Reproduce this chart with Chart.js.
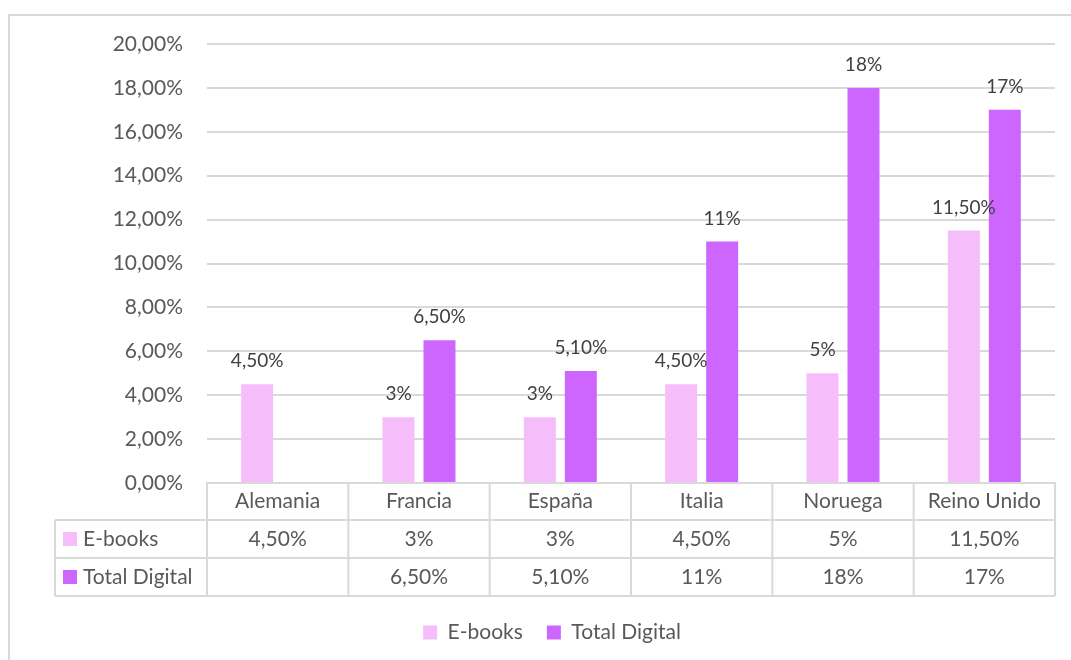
<!DOCTYPE html>
<html>
<head>
<meta charset="utf-8">
<script src="https://cdn.jsdelivr.net/npm/chart.js@4.4.0/dist/chart.umd.min.js"></script>
<style>
  html, body { margin: 0; padding: 0; background: #fff; }
  #wrap { width: 1071px; height: 660px; }
</style>
</head>
<body>
<div id="wrap"><canvas id="chart" width="1071" height="660"></canvas></div>
<script>
const countries = ["Alemania", "Francia", "España", "Italia", "Noruega", "Reino Unido"];
const ebooks = [0.045, 0.03, 0.03, 0.045, 0.05, 0.115];
const totalDigital = [null, 0.065, 0.051, 0.11, 0.18, 0.17];
const seriesNames = ["E-books", "Total Digital"];
const seriesColors = ["#F5BEFB", "#CC66FF"];

const FONT = "Lato, 'Open Sans', sans-serif";
const TEXT = "#595959";
const LINE = "#d9d9d9";
const PAD_LEFT = 49;

// excel style: 4,50% / 3% / 20,00%
const pct = (v, fixed) => {
  const p = Math.round(v * 10000) / 100;
  const s = fixed || !Number.isInteger(p) ? p.toFixed(2) : String(p);
  return s.replace(".", ",") + "%";
};

const frame = {
  id: "frame",
  beforeDraw(chart) {
    const c = chart.ctx;
    c.save();
    c.fillStyle = "#fff";
    c.fillRect(0, 0, chart.width, chart.height);
    c.strokeStyle = LINE;
    c.lineWidth = 2;
    c.strokeRect(9, 15, chart.width + 20, chart.height + 20);
    c.restore();
  }
};

const valueLabels = {
  id: "valueLabels",
  afterDatasetsDraw(chart) {
    const c = chart.ctx;
    c.save();
    c.font = "19px " + FONT;
    c.fillStyle = "#404040";
    c.textAlign = "center";
    c.textBaseline = "middle";
    chart.data.datasets.forEach((ds, i) => {
      chart.getDatasetMeta(i).data.forEach((bar, j) => {
        const v = ds.data[j];
        if (v == null) return;
        c.fillText(pct(v), bar.x, bar.y - 23);
      });
    });
    c.restore();
  }
};

const dataTable = {
  id: "dataTable",
  afterDraw(chart) {
    const x = chart.scales.x;
    const c = chart.ctx;
    const n = countries.length;
    const colW = (x.right - x.left) / n;
    const rows = [x.top, x.top + 37, x.top + 75, x.top + 113];
    const left0 = 55;
    c.save();
    c.strokeStyle = LINE;
    c.lineWidth = 2;
    c.beginPath();
    c.moveTo(x.left, rows[0]); c.lineTo(x.right, rows[0]);
    for (let r = 1; r < rows.length; r++) {
      c.moveTo(left0, rows[r]); c.lineTo(x.right, rows[r]);
    }
    for (let k = 0; k <= n; k++) {
      const px = x.left + k * colW;
      c.moveTo(px, rows[0]); c.lineTo(px, rows[3]);
    }
    c.moveTo(left0, rows[1]); c.lineTo(left0, rows[3]);
    c.stroke();

    c.font = "21px " + FONT;
    c.fillStyle = TEXT;
    c.textBaseline = "middle";
    c.textAlign = "center";
    countries.forEach((name, k) => {
      const cx = x.left + (k + 0.5) * colW;
      c.fillText(name, cx, (rows[0] + rows[1]) / 2);
    });
    chart.data.datasets.forEach((ds, i) => {
      const cy = (rows[i + 1] + rows[i + 2]) / 2;
      ds.data.forEach((v, k) => {
        if (v == null) return;
        c.textAlign = "center";
        c.fillText(pct(v), x.left + (k + 0.5) * colW, cy);
      });
      c.fillStyle = ds.backgroundColor;
      c.fillRect(63, cy - 7, 14, 14);
      c.fillStyle = TEXT;
      c.textAlign = "left";
      c.fillText(ds.label, 83, cy);
    });
    c.restore();
  }
};

new Chart(document.getElementById("chart"), {
  type: "bar",
  data: {
    labels: countries,
    datasets: [
      { label: seriesNames[0], data: ebooks, backgroundColor: seriesColors[0] },
      { label: seriesNames[1], data: totalDigital, backgroundColor: seriesColors[1] }
    ]
  },
  options: {
    responsive: false,
    animation: false,
    devicePixelRatio: 1,
    categoryPercentage: 0.58,
    barPercentage: 0.78,
    layout: { padding: { top: 44, right: 16, bottom: 7, left: PAD_LEFT } },
    scales: {
      x: {
        grid: { display: false },
        ticks: { display: false },
        border: { color: LINE, width: 2 },
        afterFit: (s) => { s.height = 115; }
      },
      y: {
        min: 0,
        max: 0.2,
        ticks: {
          stepSize: 0.02,
          padding: 24,
          color: TEXT,
          font: { family: FONT, size: 21 },
          callback: (v) => pct(v, true)
        },
        grid: { color: LINE, lineWidth: 2, drawTicks: false },
        border: { display: false },
        afterFit: (s) => { s.width = 207 - PAD_LEFT; }
      }
    },
    plugins: {
      legend: {
        position: "bottom",
        labels: {
          boxWidth: 14,
          boxHeight: 14,
          padding: 24,
          color: TEXT,
          font: { family: FONT, size: 21 }
        }
      },
      tooltip: { enabled: false }
    }
  },
  plugins: [frame, valueLabels, dataTable]
});
</script>
</body>
</html>
